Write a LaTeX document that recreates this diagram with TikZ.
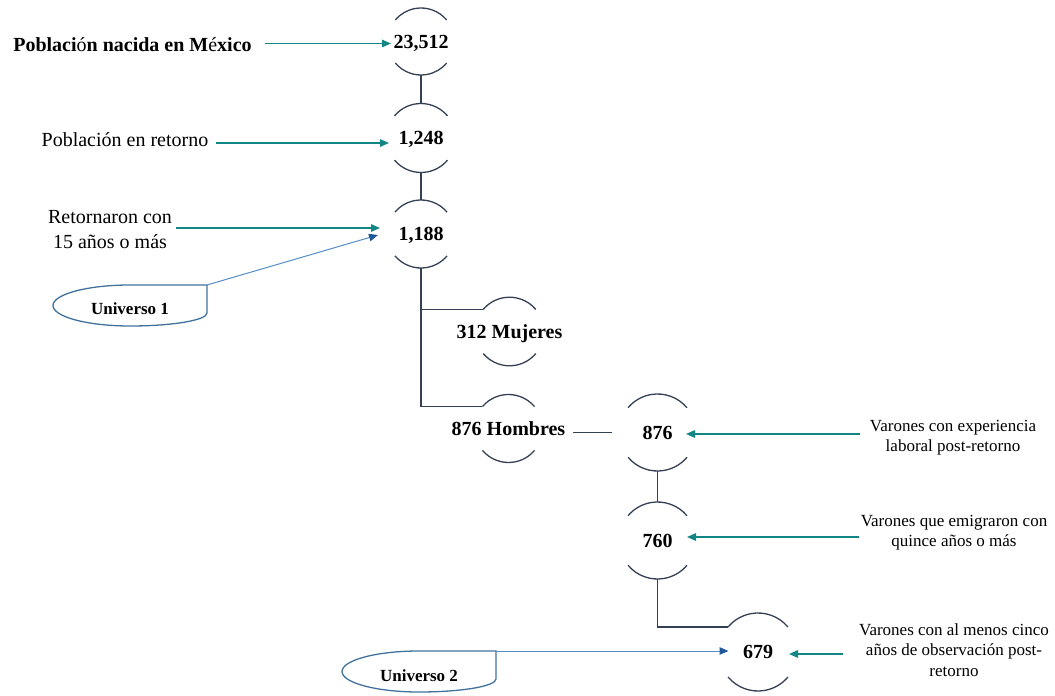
\documentclass[tikz,border=0pt]{standalone}
\usepackage{fontspec}
\setmainfont{Liberation Serif}
\usetikzlibrary{arrows.meta}

\definecolor{rimgray}{RGB}{52,64,84}
\definecolor{tealc}{RGB}{18,133,133}
\definecolor{blueline}{RGB}{84,141,200}
\definecolor{bluehead}{RGB}{31,89,153}
\definecolor{ublue}{RGB}{65,113,156}

% top and bottom arcs around a hollow circle node
\newcommand\rimarcs[2]{%
  \draw[rim] (#1.40) arc[start angle=40,end angle=140,radius=#2];
  \draw[rim] (#1.220) arc[start angle=220,end angle=320,radius=#2];}

\begin{document}
\begin{tikzpicture}[
  x=1bp, y=-1bp,
  every node/.style={inner sep=0pt, outer sep=0pt},
  big/.style={font=\fontsize{20bp}{25bp}\selectfont},
  fig/.style={font=\fontsize{20bp}{25bp}\selectfont\bfseries, text height=13.5bp, text depth=0pt},
  hollow/.style={circle, draw=none, minimum size=#1},
  rim/.style={draw=rimgray, line width=1.3bp},
  note/.style={font=\fontsize{17bp}{20.5bp}\selectfont, align=center},
  tag/.style={font=\fontsize{17bp}{20bp}\selectfont\bfseries},
  pointer/.style={draw=tealc, line width=1.5bp, -{Triangle[length=9bp,width=7.5bp]}},
  uarrow/.style={draw=blueline, line width=1bp, -{Triangle[length=9bp,width=7.5bp,color=bluehead]}},
  ushape/.style={draw=ublue, line width=1.3bp},
]
\useasboundingbox (0,0) rectangle (1055,696);

% counts
\node[fig] (n23512) at (421,41.5) {23,512};
\node[fig] (n1248) at (421,138) {1,248};
\node[fig] (n1188) at (421,234) {1,188};
\node[fig] (nmuj) at (509.5,331.5) {312 Mujeres};
\node[fig] (nhom) at (508.5,428.5) {876 Hombres};
\node[fig] (n876) at (657.5,432.5) {876};
\node[fig] (n760) at (657.5,540.5) {760};
\node[fig] (n679) at (758,652) {679};

% hollow circles behind the counts
\node[hollow=67bp] (c1) at (n23512) {};
\node[hollow=69bp] (c2) at (n1248) {};
\node[hollow=68bp] (c3) at (n1188) {};
\node[hollow=68.6bp] (cmuj) at (nmuj) {};
\node[hollow=68bp] (chom) at (nhom) {};
\node[hollow=77bp] (c876) at (n876) {};
\node[hollow=77bp] (c760) at (n760) {};
\node[hollow=78bp] (c679) at (n679) {};

\rimarcs{c1}{33.5bp}
\rimarcs{c2}{34.5bp}
\rimarcs{c3}{34bp}
\rimarcs{cmuj}{34.3bp}
\rimarcs{chom}{34bp}
\rimarcs{c876}{38.5bp}
\rimarcs{c760}{38.5bp}
\rimarcs{c679}{39bp}

% tree connectors
\draw[rim] (c1.south) -- (c2.north);
\draw[rim] (c2.south) -- (c3.north);
\draw[rim] (c3.south) |- (cmuj.140);
\draw[rim] (c3.south) |- (chom.140);
\draw[rim] ([xshift=8bp]nhom.east |- n876.center) -- ([xshift=-7bp]c876.west);
\draw[rim] (c876.south) -- (c760.north);
\draw[rim] (c760.south) |- (c679.140);

% left labels
\node[big, font=\fontsize{20bp}{25bp}\selectfont\bfseries] (lab1) at (132.5,44.5)
  {Poblaci{\mdseries ó}n nacida en M{\mdseries é}xico};
\node[big] (lab2) at (125,140) {Población en retorno};
\node[big, align=center] (lab3) at (110,229.5) {Retornaron con\\15 años o más};

\draw[pointer] ([shift={(13,-1)}]lab1.east) -- ([shift={(-2.5,-1)}]n23512.west |- lab1.east);
\draw[pointer] ([shift={(8,3)}]lab2.east) -- ([shift={(-9.5,3)}]n1248.west |- lab2.east);
\draw[pointer] ([shift={(4.5,-1.5)}]lab3.east) -- ([shift={(-18.5,-1.5)}]n1188.west |- lab3.east);

% right notes
\node[note] (note1) at (953,437.5) {Varones con experiencia\\laboral post-retorno};
\node[note] (note2) at (954,532.5) {Varones que emigraron con\\quince años o más};
\node[note] (note3) at (954,650) {Varones con al menos cinco\\años de observación post-\\retorno};

\draw[pointer] ([shift={(-10,1.5)}]note1.west |- n876.center) -- ([shift={(13.5,1.5)}]n876.east);
\draw[pointer] ([shift={(-2,-3.5)}]note2.west |- n760.center) -- ([shift={(14.5,-3.5)}]n760.east);
\draw[pointer] ([shift={(-16,2)}]note3.west |- n679.center) -- ([shift={(16,2)}]n679.east);

% universe tags
\begin{scope}[shift={(207,285)}]
  \coordinate (u1c) at (0,0);
  \draw[ushape] (0,0) -- (-77,0) .. controls (-119.5,0) and (-154,9.2) .. (-154,20.5)
    .. controls (-154,31.8) and (-119.5,41) .. (-77,41)
    .. controls (-34.5,41) and (0,35.2) .. (0,28) -- cycle;
  \node[tag] (u1) at (-77,24) {Universo 1};
\end{scope}
\begin{scope}[shift={(496,651)}]
  \coordinate (u2c) at (0,0);
  \draw[ushape] (0,0) -- (-77,0) .. controls (-119.5,0) and (-154,9.2) .. (-154,20.5)
    .. controls (-154,31.8) and (-119.5,41) .. (-77,41)
    .. controls (-34.5,41) and (0,35.2) .. (0,28) -- cycle;
  \node[tag] (u2) at (-77,24.5) {Universo 2};
\end{scope}

\draw[uarrow] (u1c) -- ([shift={(-20.5,1)}]n1188.west);
\draw[uarrow] (u2c) -- ([shift={(-14.5,0)}]n679.west |- u2c);
\end{tikzpicture}
\end{document}
